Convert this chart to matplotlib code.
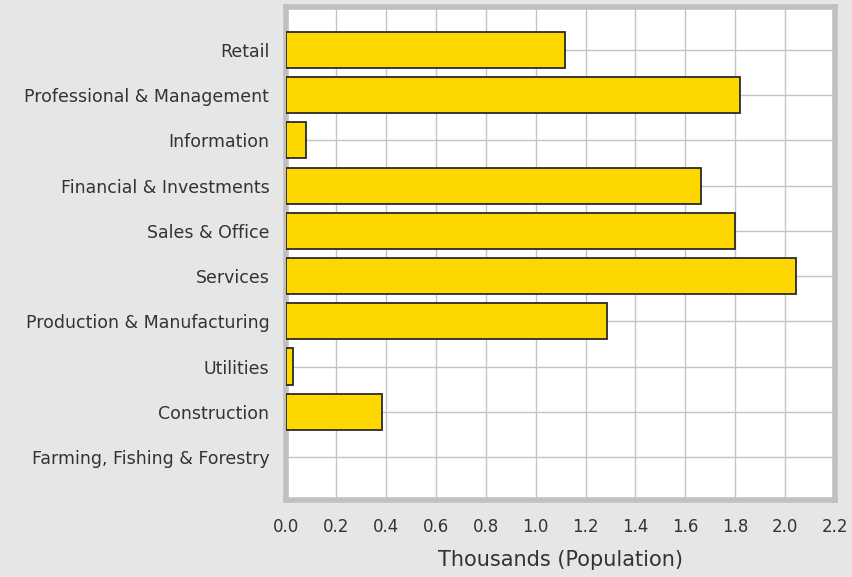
import matplotlib
matplotlib.use("Agg")
import matplotlib.pyplot as plt
import numpy as np

# data (thousands of people)
categories = ["Farming, Fishing & Forestry", "Construction", "Utilities",
              "Production & Manufacturing", "Services", "Sales & Office",
              "Financial & Investments", "Information",
              "Professional & Management", "Retail"]
values = [0.0, 0.385, 0.028, 1.286, 2.044, 1.80, 1.664, 0.082, 1.82, 1.116]
xticks = [0.0, 0.2, 0.4, 0.6, 0.8, 1.0, 1.2, 1.4, 1.6, 1.8, 2.0, 2.2]

bg = "#e6e6e6"
grid_col = "#c4c4c4"
text_col = "#333333"

fig = plt.figure(figsize=(8.53, 5.77), dpi=100, facecolor=bg)
ax = fig.add_axes([0.3353, 0.1334, 0.979 - 0.3353, 0.988 - 0.1334])
ax.set_facecolor("white")

y = np.arange(len(categories))
# no outline for an empty bar
lw = [1.3 if v > 0 else 0 for v in values]
ax.barh(y, values, height=0.8, color="#FFD700", edgecolor="#2a2a2a",
        linewidth=lw, zorder=3)

ax.set_xlim(0, 2.2)
ax.set_ylim(-0.95, 9.95)
ax.set_xticks(xticks)
ax.set_xticklabels([f"{t:.1f}" for t in xticks])
ax.set_yticks(y)
ax.set_yticklabels(categories)

ax.grid(True, color=grid_col, linewidth=1, zorder=0)
ax.set_axisbelow(True)

for s in ax.spines.values():
    s.set_color("#c0c0c0")
    s.set_linewidth(4)

ax.tick_params(axis="both", length=0, colors=text_col)
ax.tick_params(axis="y", labelsize=12.5, pad=12)
ax.tick_params(axis="x", labelsize=12, pad=13)

ax.set_xlabel("Thousands (Population)", fontsize=15, color=text_col,
              labelpad=10)

fig.savefig("out.png", dpi=100, facecolor=bg)
